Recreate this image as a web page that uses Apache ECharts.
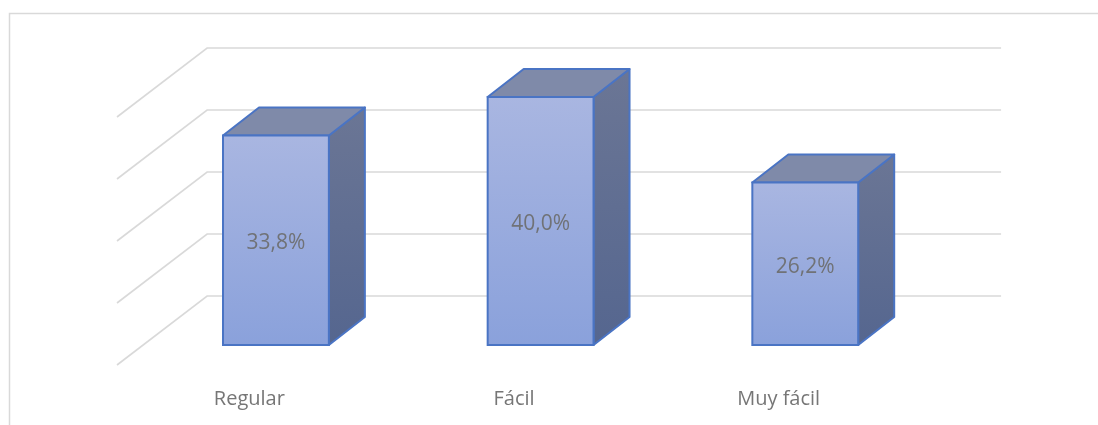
<!DOCTYPE html>
<html>
<head>
<meta charset="utf-8">
<script src="https://cdn.jsdelivr.net/npm/echarts@6/dist/echarts.min.js"></script>
<style>
html,body{margin:0;padding:0;background:#fff;}
#chart{width:1098px;height:425px;}
</style>
</head>
<body>
<div id="chart"></div>
<script>
const categories = ['Regular', 'Fácil', 'Muy fácil'];
const values = [33.8, 40.0, 26.2];
const gridValues = [0, 10, 20, 30, 40];

// 3D offsets (pixels) relative to the bar-front plane
const BACK = { dx: 63.5, dy: -49 };
const SIDE = { dx: -26.6, dy: 20 };
const DEPTH = { dx: 36, dy: -28 };

const chart = echarts.init(document.getElementById('chart'), null, { renderer: 'canvas' });

function fmt(v) { return v.toFixed(1).replace('.', ',') + '%'; }

const option = {
  backgroundColor: '#ffffff',
  animation: false,
  textStyle: { fontFamily: 'Open Sans' },
  graphic: [{
    type: 'rect',
    silent: true,
    shape: { x: 9.5, y: 13.5, width: 1300, height: 600 },
    style: { fill: 'none', stroke: '#d9d9d9', lineWidth: 1.5 }
  }],
  grid: [
    { left: 143.6, right: 160.4, top: 97, bottom: 80 },
    { left: 117, right: 187, top: 117, bottom: 60 }
  ],
  xAxis: [
    { type: 'category', data: categories, gridIndex: 0, show: false },
    {
      type: 'category', data: categories, gridIndex: 1,
      axisLine: { show: false }, axisTick: { show: false },
      axisLabel: { fontSize: 20, color: '#767676', margin: 24, fontFamily: 'Open Sans' }
    }
  ],
  yAxis: [
    { type: 'value', min: 0, max: 40, interval: 10, gridIndex: 0, show: false },
    { type: 'value', min: 0, max: 40, interval: 10, gridIndex: 1, show: false }
  ],
  series: [
    {
      type: 'custom',
      xAxisIndex: 0, yAxisIndex: 0,
      silent: true,
      z: 1,
      data: gridValues.map(v => [0, v]),
      renderItem: function (params, api) {
        const v = api.value(1);
        const y = api.coord([0, v])[1];
        const cs = params.coordSys;
        const x0 = cs.x, x1 = cs.x + cs.width;
        return {
          type: 'polyline',
          shape: {
            points: [
              [x0 + SIDE.dx, y + SIDE.dy],
              [x0 + BACK.dx, y + BACK.dy],
              [x1 + BACK.dx, y + BACK.dy]
            ]
          },
          style: { fill: 'none', stroke: '#d9d9d9', lineWidth: 1.6 }
        };
      }
    },
    {
      type: 'custom',
      xAxisIndex: 0, yAxisIndex: 0,
      z: 5,
      data: values.map((v, i) => [i, v]),
      renderItem: function (params, api) {
        const i = api.value(0), v = api.value(1);
        const top = api.coord([i, v]);
        const base = api.coord([i, 0]);
        const band = api.size([1, 0])[0];
        const w = band * 0.4;
        const xl = top[0] - w / 2, xr = top[0] + w / 2;
        const yt = top[1], yb = base[1];
        const stroke = '#4a74c4';
        return {
          type: 'group',
          children: [
            {
              type: 'polygon',
              shape: { points: [[xr, yt], [xr + DEPTH.dx, yt + DEPTH.dy], [xr + DEPTH.dx, yb + DEPTH.dy], [xr, yb]] },
              style: {
                fill: new echarts.graphic.LinearGradient(0, 0, 0, 1, [
                  { offset: 0, color: '#6b7695' }, { offset: 1, color: '#55668f' }
                ]),
                stroke: stroke, lineWidth: 2, lineJoin: 'round'
              }
            },
            {
              type: 'polygon',
              shape: { points: [[xl, yt], [xl + DEPTH.dx, yt + DEPTH.dy], [xr + DEPTH.dx, yt + DEPTH.dy], [xr, yt]] },
              style: { fill: '#7f8aa9', stroke: stroke, lineWidth: 2, lineJoin: 'round' }
            },
            {
              type: 'rect',
              shape: { x: xl, y: yt, width: w, height: yb - yt },
              style: {
                fill: new echarts.graphic.LinearGradient(0, 0, 0, 1, [
                  { offset: 0, color: '#a9b6e1' }, { offset: 1, color: '#8aa1db' }
                ]),
                stroke: stroke, lineWidth: 2
              }
            },
            {
              type: 'text',
              style: {
                text: fmt(v),
                x: (xl + xr) / 2, y: (yt + yb) / 2 + 3,
                align: 'center', verticalAlign: 'middle',
                fill: '#707276', fontSize: 21, fontFamily: 'Open Sans'
              }
            }
          ]
        };
      }
    }
  ]
};

chart.setOption(option);
</script>
</body>
</html>
